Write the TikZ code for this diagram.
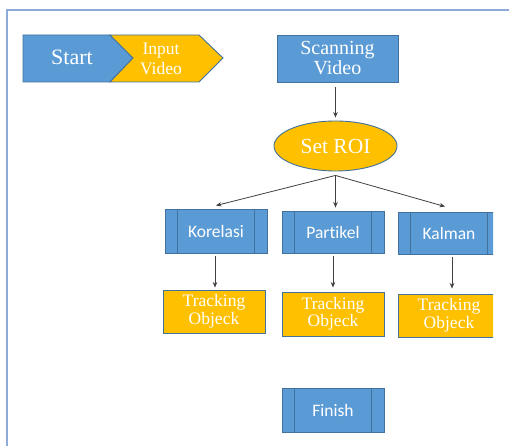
\documentclass[tikz,border=0pt]{standalone}
\usepackage{fontspec}
\usetikzlibrary{shapes.geometric,arrows.meta}
\newfontfamily\serifface{Liberation Serif}
\newfontfamily\calface[Ligatures=NoCommon]{Carlito}
\definecolor{boxblue}{HTML}{5B9BD5}
\definecolor{edgeblue}{HTML}{41719C}
\definecolor{boxgold}{HTML}{FFC000}
\definecolor{framecol}{HTML}{8EAADB}
\tikzset{
    bluebox/.style={draw=edgeblue, fill=boxblue, text=white, line width=0.9pt,
        minimum width=102pt, minimum height=43pt, inner sep=0pt, align=center},
    goldbox/.style={bluebox, fill=boxgold},
    procbox/.style={bluebox, font=\calface\fontsize{17.5}{19}\selectfont},
    trackbox/.style={goldbox, font=\serifface\fontsize{17.5}{17.5}\selectfont},
    arr/.style={-{Stealth[length=5.5pt,width=4.5pt]}, draw=black!75, line width=0.8pt}
}
\begin{document}
\begin{tikzpicture}[x=1pt,y=-1pt]
    \useasboundingbox (0,0) rectangle (509,446);
    % frame
    \draw[framecol, line width=2pt] (7,446) -- (7,10) -- (509,10);
    % start / input video
    \draw[edgeblue, fill=boxblue, line width=0.9pt]
        (23,35) -- (110,35) -- (133,58) -- (110,82) -- (23,82) -- cycle;
    \draw[edgeblue, fill=boxgold, line width=0.9pt]
        (110,35) -- (199,35) -- (223,58) -- (199,82) -- (110,82) -- (133,58) -- cycle;
    \node[text=white, font=\serifface\fontsize{22}{24}\selectfont] (start) at (72,57) {Start};
    \node[text=white, align=center, font=\serifface\fontsize{17.5}{20}\selectfont] (input) at (161,59) {Input\\Video};
    % main column
    \node[bluebox, minimum width=121pt, minimum height=47pt,
        font=\serifface\fontsize{20}{20}\selectfont] (scan) at (337.5,58.5) {Scanning\\Video};
    \node[ellipse, draw=edgeblue, fill=boxgold, text=white, line width=0.9pt,
        minimum width=123pt, minimum height=50pt, inner sep=0pt,
        font=\serifface\fontsize{21.5}{22}\selectfont] (roi) at (335.5,146) {Set ROI};
    \node[procbox, minimum height=44pt] (korelasi) at (216,231) {Korelasi};
    \node[procbox, minimum height=42pt] (partikel) at (333,232) {Partikel};
    \begin{scope}
        \clip (0,0) rectangle (493,446);
        \node[procbox, minimum height=42pt] (kalman) at (449,233) {Kalman};
        \draw[edgeblue, line width=0.9pt] ([xshift=-13pt]kalman.north east) -- ([xshift=-13pt]kalman.south east);
        \node[trackbox] (track3) at (449,315.5) {Tracking\\Objeck};
    \end{scope}
    \node[trackbox] (track1) at (214,311.5) {Tracking\\Objeck};
    \node[trackbox, minimum height=44pt] (track2) at (333,314) {Tracking\\Objeck};
    \node[procbox, minimum height=44pt] (finish) at (333,410) {Finish};
    % side bars of the process boxes
    \foreach \b in {korelasi,partikel,finish}{
        \draw[edgeblue, line width=0.9pt] ([xshift=13pt]\b.north west) -- ([xshift=13pt]\b.south west);
        \draw[edgeblue, line width=0.9pt] ([xshift=-13pt]\b.north east) -- ([xshift=-13pt]\b.south east);
    }
    \draw[edgeblue, line width=0.9pt] ([xshift=13pt]kalman.north west) -- ([xshift=13pt]kalman.south west);
    % connectors
    \coordinate (fork) at ([yshift=-4pt]roi.south);
    \draw[arr] ([yshift=-5pt]scan.south -| roi.north) -- ([yshift=3pt]roi.north);
    \draw[arr] (fork) -- ([yshift=3pt]korelasi.north);
    \draw[arr] (fork) -- ([yshift=3pt]fork |- partikel.north);
    \draw[arr] (fork) -- ([xshift=-4pt,yshift=5pt]kalman.north);
    \draw[arr] ([xshift=-1pt,yshift=-3pt]korelasi.south) -- ([xshift=-1pt,yshift=2pt]korelasi.south |- track1.north);
    \draw[arr] ([yshift=-3pt]partikel.south) -- ([yshift=4pt]track2.north);
    \draw[arr] ([xshift=3pt,yshift=-3pt]kalman.south) -- ([xshift=3pt,yshift=5pt]kalman.south |- track3.north);
\end{tikzpicture}
\end{document}
